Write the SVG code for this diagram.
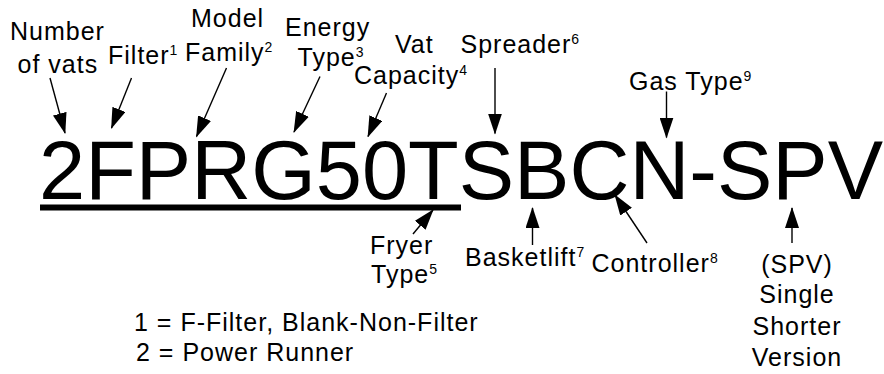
<svg xmlns="http://www.w3.org/2000/svg" width="884" height="374" viewBox="0 0 884 374">
<style>
text{font-family:"Liberation Sans",Arial,sans-serif;fill:#000}
.lbl{font-size:25px;letter-spacing:1px}
.sup{font-size:14px;letter-spacing:0}
.code{font-size:83px}
.arr{stroke:#000;stroke-width:1.4;fill:none;marker-end:url(#ah)}
</style>
<defs>
<marker id="ah" markerUnits="userSpaceOnUse" markerWidth="21" markerHeight="14" viewBox="0 0 21 14" refX="20" refY="7" orient="auto">
<path d="M0,0 L21,7 L0,14 z" fill="#000"/>
</marker>
</defs>
<rect width="884" height="374" fill="#fff"/>
<g id="code">
<text class="code" x="39" y="199">2FPRG50TSBCN-SPV</text>
<rect x="40" y="204.5" width="421" height="6" fill="#000"/>
</g>
<g id="number-of-vats"><text class="lbl" x="10" y="40">Number</text><text class="lbl" x="17.5" y="73">of vats</text></g>
<g id="filter"><text class="lbl" x="108" y="64">Filter<tspan class="sup" dy="-9">1</tspan></text></g>
<g id="model-family"><text class="lbl" x="191" y="27">Model</text><text class="lbl" x="185" y="61">Family<tspan class="sup" dy="-9">2</tspan></text></g>
<g id="energy-type"><text class="lbl" x="285" y="36">Energy</text><text class="lbl" x="297.5" y="66">Type<tspan class="sup" dy="-9">3</tspan></text></g>
<g id="vat-capacity"><text class="lbl" x="395" y="53">Vat</text><text class="lbl" x="354" y="84">Capacity<tspan class="sup" dy="-9">4</tspan></text></g>
<g id="spreader"><text class="lbl" x="460.5" y="53">Spreader<tspan class="sup" dy="-9">6</tspan></text></g>
<g id="gas-type"><text class="lbl" x="629" y="90">Gas Type<tspan class="sup" dy="-9">9</tspan></text></g>
<g id="fryer-type"><text class="lbl" x="370" y="254">Fryer</text><text class="lbl" x="371" y="283">Type<tspan class="sup" dy="-9">5</tspan></text></g>
<g id="basketlift"><text class="lbl" x="465" y="266">Basketlift<tspan class="sup" dy="-9">7</tspan></text></g>
<g id="controller"><text class="lbl" x="591.5" y="272">Controller<tspan class="sup" dy="-9">8</tspan></text></g>
<g id="spv" text-anchor="middle"><text class="lbl" x="797" y="273">(SPV)</text><text class="lbl" x="797" y="303">Single</text><text class="lbl" x="797" y="335">Shorter</text><text class="lbl" x="797" y="366">Version</text></g>
<g id="legend"><text class="lbl" x="134" y="331">1 = F-Filter, Blank-Non-Filter</text><text class="lbl" x="136" y="361">2 = Power Runner</text></g>
<g id="connectors">
<line class="arr" x1="50" y1="78" x2="65" y2="133"/>
<line class="arr" x1="131.5" y1="78" x2="111.5" y2="128"/>
<line class="arr" x1="226.5" y1="68" x2="196.5" y2="136.5"/>
<line class="arr" x1="320" y1="76.5" x2="294" y2="132"/>
<line class="arr" x1="386.5" y1="93" x2="368" y2="136.5"/>
<line class="arr" x1="495" y1="68" x2="495" y2="133.5"/>
<line class="arr" x1="666.5" y1="91.5" x2="666.5" y2="137.5"/>
<line class="arr" x1="413" y1="234" x2="433" y2="210"/>
<line class="arr" x1="532.5" y1="245" x2="532.5" y2="208"/>
<line class="arr" x1="647" y1="243" x2="615" y2="195"/>
<line class="arr" x1="792" y1="243" x2="792" y2="208"/>
</g>
</svg>
